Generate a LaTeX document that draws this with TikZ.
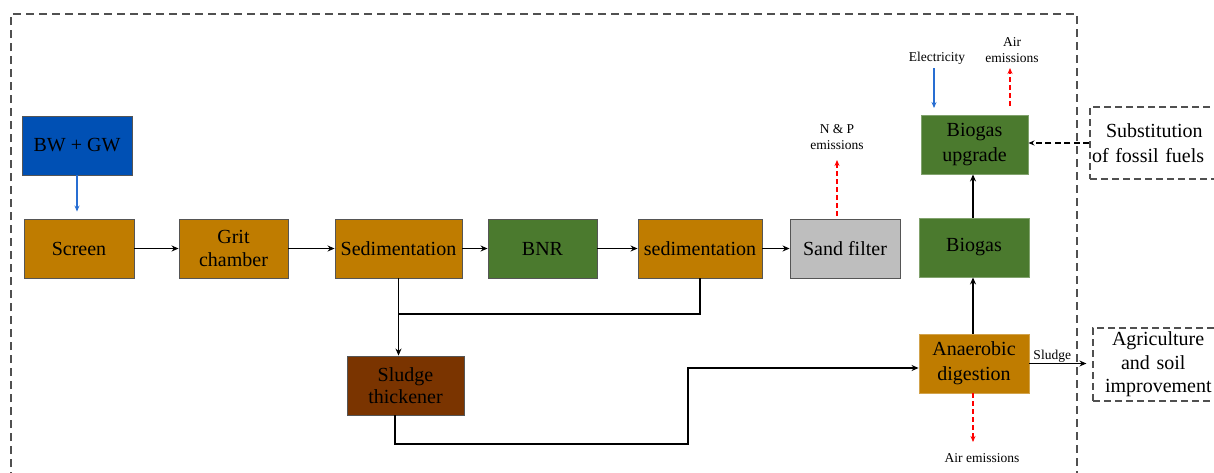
\documentclass[tikz,border=0pt]{standalone}
\usepackage{fontspec}
\setmainfont{Liberation Serif}
\usetikzlibrary{arrows.meta}
\definecolor{orng}{RGB}{191,124,0}
\definecolor{grn}{RGB}{75,122,46}
\definecolor{brwn}{RGB}{122,52,0}
\definecolor{gry}{RGB}{190,190,190}
\definecolor{blu}{RGB}{0,80,180}
\definecolor{lblu}{RGB}{40,110,210}
\definecolor{bord}{RGB}{85,85,85}
\definecolor{dash}{RGB}{80,80,80}
\tikzset{
  proc/.style={draw=bord,line width=0.9pt,minimum height=59pt,align=center,
    font=\fontsize{20}{22}\selectfont,inner sep=1pt},
  ls/.style={font=\fontsize{20}{#1}\selectfont},
  small/.style={font=\fontsize{13.5}{16}\selectfont,align=center,inner sep=0pt},
  arr/.style={line width=1.3pt,-{Stealth[length=7pt,width=6pt]}},
  redarr/.style={red,line width=1.1pt,dash pattern=on 5pt off 3pt,-{Stealth[length=6pt,width=5pt]}},
  bluarr/.style={lblu,line width=1.1pt,-{Stealth[length=6pt,width=5pt]}},
  outbox/.style={draw=dash,line width=1.2pt,dash pattern=on 8pt off 5pt},
}
\begin{document}
\begin{tikzpicture}[x=1pt,y=-1pt]
\useasboundingbox (0,0) rectangle (1214,472);
% outer system boundary
\draw[outbox] (11,480) -- (11,14) -- (1077,14) -- (1077,480);
% process boxes
\node[proc,fill=blu,minimum width=110pt] (bw) at (77,145.5) {BW + GW};
\node[proc,fill=orng,minimum width=110pt] (screen) at (79,248.5) {Screen};
\node[proc,fill=orng,minimum width=109pt,ls=22.5] (grit) at (233.5,248.5) {Grit\\chamber};
\node[proc,fill=orng,minimum width=127pt] (sed1) at (398.5,248.5) {Sedimentation};
\node[proc,fill=grn,minimum width=109pt] (bnr) at (542.5,248.5) {BNR};
\node[proc,fill=orng,minimum width=124pt] (sed2) at (700,248.5) {sedimentation};
\node[proc,fill=gry,minimum width=110pt] (sand) at (845,248.5) {Sand filter};
\node[proc,fill=grn,draw=grn!70!white,minimum width=110pt] (biogas) at (974,247.5) {Biogas};
\node[proc,fill=grn,draw=grn!70!white,minimum width=107pt,ls=25] (upgrade) at (974.5,144.5) {Biogas\\upgrade};
\node[proc,fill=orng,draw=orng!70!white,minimum width=110pt,ls=25] (ad) at (974,363.5) {Anaerobic\\digestion};
\node[proc,fill=brwn,minimum width=117pt,ls=21.5] (thick) at (405.5,385.5) {Sludge\\thickener};
% external boxes
\node[proc,draw=dash,line width=1.2pt,dash pattern=on 7pt off 4pt,minimum width=134pt,minimum height=72pt,text width=130pt,align=left,ls=25] (subst) at (1157,143)
  {\hspace*{14pt}Substitution\\of fossil fuels};
\node[proc,draw=dash,line width=1.2pt,dash pattern=on 7pt off 4pt,minimum width=134pt,minimum height=73pt,text width=130pt,align=left,ls=23.5] (agri) at (1160,364.5)
  {\hspace*{17pt}Agriculture\\\hspace*{26pt}and soil\\\hspace*{10pt}improvement};
% labels
\node[small] (elec) at (937,58) {Electricity};
\node[small] (airt) at (1012,50) {Air\\emissions};
\node[small] (np) at (837,137) {N \& P\\emissions};
\node[small] (airb) at (982,458) {Air emissions};
\coordinate (j) at (398,314);
\coordinate (t1) at (688,444);
\coordinate (e1) at (934,68);
\coordinate (e2) at (934,108);
\coordinate (a1) at (1010,106);
\coordinate (a2) at (1010,68);
\coordinate (n1) at (837,216);
\coordinate (n2) at (837,160);
\coordinate (b2) at (973,442);
% connectors
\draw[bluarr,line width=1.8pt] (bw.south) -- ([yshift=7pt]bw.south |- screen.north);
\draw[arr] (screen) -- (grit);
\draw[arr] (grit) -- (sed1);
\draw[arr] (sed1) -- (bnr);
\draw[arr] (bnr) -- (sed2);
\draw[arr] (sed2) -- (sand);
\draw[arr] (sed1.south) -- (sed1.south |- thick.north);
\draw[line width=1.3pt] (sed2.south) |- (j);
\draw[arr] ([xshift=-10.5pt]thick.south) |- (t1) |- ([yshift=-4.5pt]ad.west);
\draw[arr] ([xshift=-1pt]ad.north) -- ([xshift=-1pt]biogas.south);
\draw[arr] ([xshift=-1pt]biogas.north) -- ([xshift=-1.5pt]upgrade.south);
\draw[bluarr] (e1) -- (e2);
\draw[redarr] (a1) -- (a2);
\draw[redarr] (n1) -- (n2);
\draw[redarr] ([xshift=-1pt]ad.south) -- (b2);
\draw[line width=1.2pt,dash pattern=on 6pt off 3.5pt,-{Stealth[length=6pt,width=5pt]}] (subst.west) -- (subst.west -| upgrade.east);
\draw[arr] (ad.east) -- node[small,above=0pt,pos=0.4] {Sludge} ([xshift=-6pt]ad.east -| agri.west);
\end{tikzpicture}
\end{document}
